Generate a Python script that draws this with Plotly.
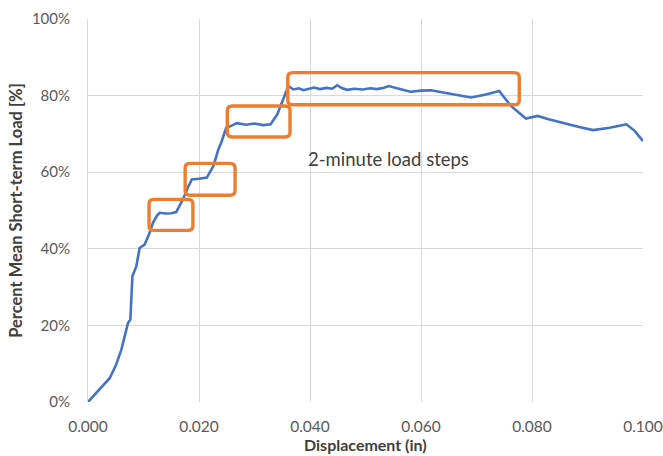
import plotly.graph_objects as go

# Load–displacement curve
displacement = [0.0, 0.0020, 0.0039, 0.0050, 0.0060, 0.0072, 0.00763, 0.0080, 0.0087, 0.0093,
                0.0102, 0.0110, 0.0117, 0.0124, 0.0129, 0.0140, 0.0150, 0.0159, 0.0171,
                0.0180, 0.0187, 0.0200, 0.0214, 0.0226, 0.0235, 0.0240, 0.0249, 0.0258,
                0.0268, 0.0285, 0.0300, 0.0315, 0.0329, 0.0341, 0.0352, 0.0361, 0.0370,
                0.0380, 0.0388, 0.0398, 0.0407, 0.0418, 0.0430, 0.0440, 0.0449, 0.0458,
                0.0467, 0.0480, 0.0495, 0.0509, 0.0520, 0.0532, 0.0542, 0.0560, 0.0581,
                0.0600, 0.0618, 0.0640, 0.0665, 0.0690, 0.0715, 0.0741, 0.0750, 0.0762,
                0.0789, 0.0810, 0.0830, 0.0860, 0.0885, 0.0910, 0.0940, 0.0970, 0.0985,
                0.1000]
load_pct = [0.0, 3.2, 6.2, 9.5, 13.6, 20.6, 21.5, 32.8, 35.4, 40.2,
            41.1, 43.8, 46.8, 48.6, 49.4, 49.2, 49.3, 49.6, 52.9,
            56.0, 58.1, 58.3, 58.6, 61.6, 66.0, 67.7, 71.6, 72.1,
            72.8, 72.4, 72.7, 72.3, 72.5, 75.1, 79.0, 82.5, 81.6,
            81.9, 81.4, 81.8, 82.1, 81.7, 82.0, 81.8, 82.7, 81.9,
            81.5, 81.8, 81.6, 81.9, 81.7, 82.0, 82.5, 81.8, 81.0,
            81.3, 81.4, 80.8, 80.2, 79.5, 80.2, 81.2, 79.5, 77.3,
            74.0, 74.7, 73.8, 72.6, 71.8, 71.0, 71.6, 72.5, 70.8,
            68.1]

# Load-step windows: (x0, x1, y0, y1)
step_x0 = [0.0110, 0.0175, 0.0251, 0.0360]
step_x1 = [0.0189, 0.0265, 0.0364, 0.0777]
step_y0 = [44.8, 54.0, 69.2, 77.6]
step_y1 = [52.9, 62.3, 77.3, 86.0]

x_ticks = [0.0, 0.02, 0.04, 0.06, 0.08, 0.10]
x_tick_text = ["0.000", "0.020", "0.040", "0.060", "0.080", "0.100"]
y_ticks = [0, 20, 40, 60, 80, 100]
y_tick_text = ["0%", "20%", "40%", "60%", "80%", "100%"]

FONT = "Lato, 'Open Sans', sans-serif"
ORANGE = "#ED7D31"

fig = go.Figure()
fig.add_trace(go.Scatter(x=displacement, y=load_pct, mode="lines",
                         line=dict(color="#4472C4", width=2.6), showlegend=False))


def rounded_box(x0, x1, y0, y1, rx=0.0009, ry=1.2):
    return (f"M {x0 + rx},{y0} L {x1 - rx},{y0} Q {x1},{y0} {x1},{y0 + ry} "
            f"L {x1},{y1 - ry} Q {x1},{y1} {x1 - rx},{y1} "
            f"L {x0 + rx},{y1} Q {x0},{y1} {x0},{y1 - ry} "
            f"L {x0},{y0 + ry} Q {x0},{y0} {x0 + rx},{y0} Z")


for a, b, c, d in zip(step_x0, step_x1, step_y0, step_y1):
    fig.add_shape(type="path", path=rounded_box(a, b, c, d), xref="x", yref="y",
                  line=dict(color=ORANGE, width=3.4))

fig.add_annotation(x=0.0541, y=63.4, text="2-minute load steps", showarrow=False,
                   font=dict(family=FONT, size=18.5, color="#404040"))

# x-axis title placed just under the tick labels
fig.add_annotation(x=0.5, y=0, xref="paper", yref="paper", yanchor="bottom",
                   yshift=-54, text="<b>Displacement (in)</b>", showarrow=False,
                   font=dict(family=FONT, size=16, color="#404040"))

fig.update_layout(
    width=663, height=456,
    margin=dict(l=88, r=20, t=19, b=54),
    paper_bgcolor="white", plot_bgcolor="white",
    font=dict(family=FONT, color="#595959"),
)
fig.update_xaxes(range=[0, 0.1], tickvals=x_ticks, ticktext=x_tick_text,
                 showgrid=True, gridcolor="#D9D9D9", gridwidth=1,
                 zeroline=False, showline=False, automargin=False,
                 ticks="outside", ticklen=10, tickcolor="rgba(0,0,0,0)",
                 tickfont=dict(size=15.5, color="#595959"))
fig.update_yaxes(range=[0, 100], tickvals=y_ticks, ticktext=y_tick_text,
                 showgrid=True, gridcolor="#D9D9D9", gridwidth=1,
                 zeroline=False, showline=True, linecolor="#D9D9D9", automargin=False,
                 ticks="outside", ticklen=14, tickcolor="rgba(0,0,0,0)",
                 tickfont=dict(size=15, color="#595959"),
                 title=dict(text="<b>Percent Mean Short-term Load [%]</b>", standoff=5,
                            font=dict(size=16.5, color="#404040")))

fig.write_html("out.html")
